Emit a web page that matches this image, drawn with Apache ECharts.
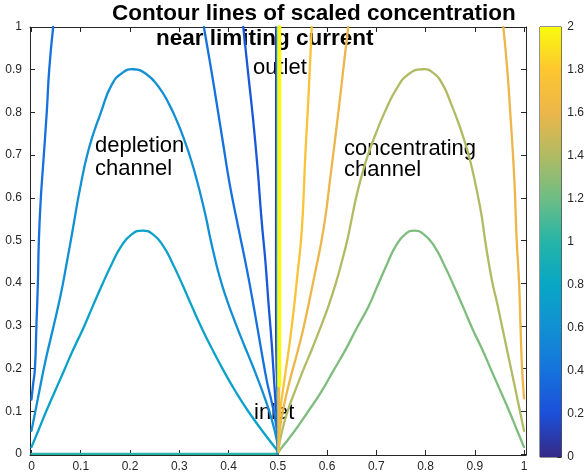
<!DOCTYPE html>
<html>
<head>
<meta charset="utf-8">
<script src="https://cdn.jsdelivr.net/npm/echarts@6/dist/echarts.min.js"></script>
<style>
  html, body { margin: 0; padding: 0; background: #fff; }
  #chart { width: 587px; height: 473px; }
</style>
</head>
<body>
<div id="chart"></div>
<script>
// tick values
var xTicks = [0, 0.1, 0.2, 0.3, 0.4, 0.5, 0.6, 0.7, 0.8, 0.9, 1];
var yTicks = [0, 0.1, 0.2, 0.3, 0.4, 0.5, 0.6, 0.7, 0.8, 0.9, 1];
var barTicks = [0, 0.2, 0.4, 0.6, 0.8, 1, 1.2, 1.4, 1.6, 1.8, 2];
// parula-like colours at 0, 0.2, ... 2
var parula = ['#352a87', '#1c4fd9', '#1572dc', '#1290d3', '#08a6c5', '#25b4a8',
              '#6dbd85', '#b0bb63', '#ecb64a', '#fdc630', '#f9fb0e'];

// contour lines, [x, y]
// depletion side
var navyLine = [[0.496, 1], [0.496, 0.6], [0.496, 0.3], [0.497, 0.2], [0.499, 0.15]];
var lineC = [[0.43, 1], [0.44, 0.89], [0.45, 0.783], [0.459, 0.67], [0.467, 0.55], [0.475, 0.45],
             [0.481, 0.356], [0.487, 0.27], [0.491, 0.2], [0.495, 0.13], [0.498, 0.084], [0.5, 0.057]];
var lineB = [[0.35, 1], [0.362, 0.92], [0.372, 0.85], [0.39, 0.72], [0.403, 0.628], [0.42, 0.53],
             [0.437, 0.434], [0.452, 0.34], [0.467, 0.24], [0.478, 0.17], [0.488, 0.12], [0.495, 0.08], [0.5, 0.037]];
var lineA = [[0, 0.127], [0.003, 0.16], [0.007, 0.2], [0.01, 0.3], [0.013, 0.4], [0.015, 0.5],
             [0.019, 0.6], [0.023, 0.667], [0.031, 0.8], [0.036, 0.9], [0.044, 1]];
var arch1 = [[0, 0.054], [0.013, 0.13], [0.028, 0.216], [0.043, 0.29], [0.059, 0.371], [0.072, 0.45],
             [0.084, 0.527], [0.097, 0.612], [0.116, 0.713], [0.141, 0.8], [0.163, 0.865], [0.185, 0.893],
             [0.207, 0.901], [0.233, 0.89], [0.258, 0.86], [0.279, 0.82], [0.297, 0.775], [0.312, 0.73],
             [0.325, 0.685], [0.336, 0.64], [0.346, 0.595], [0.355, 0.55], [0.363, 0.505], [0.372, 0.46],
             [0.382, 0.415], [0.394, 0.37], [0.408, 0.325], [0.423, 0.28], [0.44, 0.232], [0.458, 0.18],
             [0.474, 0.13], [0.488, 0.08], [0.5, 0.022]];
var arch2 = [[0, 0.016], [0.014, 0.055], [0.03, 0.1], [0.047, 0.145], [0.066, 0.195], [0.085, 0.245],
             [0.105, 0.294], [0.124, 0.345], [0.143, 0.395], [0.163, 0.445], [0.183, 0.488], [0.204, 0.515],
             [0.225, 0.523], [0.246, 0.515], [0.267, 0.488], [0.287, 0.445], [0.307, 0.395], [0.326, 0.345],
             [0.346, 0.294], [0.367, 0.245], [0.39, 0.195], [0.415, 0.145], [0.44, 0.1], [0.468, 0.055], [0.5, 0.007]];
var bottomLine = [[0, 0], [0.5, 0]];
var blueEdge = [[0.4985, 0], [0.4985, 1]];
// concentrating side
var lineCr = [[0.569, 1], [0.563, 0.85], [0.556, 0.7], [0.549, 0.527], [0.54, 0.42], [0.528, 0.294],
              [0.514, 0.177], [0.507, 0.12], [0.502, 0.07]];
var lineBr = [[0.643, 1], [0.633, 0.9], [0.623, 0.8], [0.607, 0.65], [0.593, 0.527], [0.575, 0.42],
              [0.552, 0.294], [0.538, 0.23], [0.524, 0.17], [0.512, 0.11], [0.503, 0.05]];
var lineAr = [[0.958, 1], [0.966, 0.9], [0.972, 0.8], [0.98, 0.65], [0.985, 0.503], [0.99, 0.4],
              [0.993, 0.294], [0.996, 0.2], [1, 0.13]];
var arch1r = [[0.501, 0.01], [0.508, 0.05], [0.52, 0.1], [0.536, 0.15], [0.553, 0.2], [0.571, 0.25],
              [0.588, 0.3], [0.604, 0.35], [0.618, 0.4], [0.63, 0.45], [0.641, 0.5], [0.65, 0.55],
              [0.659, 0.6], [0.67, 0.65], [0.683, 0.7], [0.699, 0.75], [0.717, 0.8], [0.741, 0.855],
              [0.766, 0.89], [0.794, 0.901], [0.815, 0.893], [0.835, 0.865], [0.852, 0.82], [0.867, 0.775],
              [0.88, 0.73], [0.891, 0.685], [0.9, 0.64], [0.908, 0.595], [0.915, 0.55], [0.921, 0.5],
              [0.928, 0.45], [0.936, 0.4], [0.946, 0.35], [0.957, 0.29], [0.968, 0.23], [0.979, 0.17],
              [0.99, 0.11], [1, 0.054]];
var arch2r = [[0.502, 0.006], [0.535, 0.055], [0.562, 0.1], [0.588, 0.145], [0.613, 0.195], [0.638, 0.245],
              [0.66, 0.294], [0.684, 0.345], [0.703, 0.395], [0.722, 0.445], [0.74, 0.488], [0.759, 0.515],
              [0.777, 0.523], [0.796, 0.515], [0.817, 0.488], [0.837, 0.445], [0.857, 0.395], [0.876, 0.345],
              [0.895, 0.294], [0.915, 0.245], [0.934, 0.195], [0.953, 0.145], [0.97, 0.1], [0.986, 0.055], [1, 0.016]];
var orangeEdge = [[0.502, 0.005], [0.502, 0.16]];
var yellowEdge = [[0.503, 0.16], [0.503, 1]];

var contourLines = [bottomLine, arch2, arch1, lineA, lineB, lineC, navyLine, blueEdge,
                    arch2r, arch1r, lineAr, lineBr, lineCr, orangeEdge, yellowEdge];
var contourLevels = [1.0, 0.75, 0.6, 0.4, 0.4, 0.25, 0.1, 0.55,
                     1.25, 1.4, 1.6, 1.6, 1.75, 1.65, 2.0];

function hex2rgb(h) {
  return [parseInt(h.substr(1, 2), 16), parseInt(h.substr(3, 2), 16), parseInt(h.substr(5, 2), 16)];
}
function levelColor(v) {
  var t = v / 2 * (parula.length - 1);
  var i = Math.min(Math.floor(t), parula.length - 2);
  var f = t - i;
  var a = hex2rgb(parula[i]), b = hex2rgb(parula[i + 1]);
  var c = a.map(function (k, j) { return Math.round(k + (b[j] - k) * f); });
  return 'rgb(' + c.join(',') + ')';
}

var FONT = '"Liberation Sans", Arial, Helvetica, sans-serif';
var AX = '#262626';

var chart = echarts.init(document.getElementById('chart'));

// one smooth polyline per contour, positioned through the axes
var series = contourLines.map(function (d, i) {
  var w = 2.3;
  if (d === yellowEdge) w = 4;
  if (d === orangeEdge) w = 3;
  if (d === navyLine || d === blueEdge) w = 1.6;
  var color = levelColor(contourLevels[i]);
  return {
    type: 'custom',
    coordinateSystem: 'cartesian2d',
    xAxisIndex: 0,
    yAxisIndex: 0,
    data: d,
    silent: true,
    z: 3 + i,
    renderItem: function (params, api) {
      if (params.dataIndex !== 0) return;
      var pts = d.map(function (p) { return api.coord(p); });
      return {
        type: 'polyline',
        shape: { points: pts, smooth: 0.5, smoothConstraint: false },
        style: { stroke: color, lineWidth: w, fill: null, lineJoin: 'round', lineCap: 'round' }
      };
    }
  };
});

series.push({
  type: 'bar',
  xAxisIndex: 2,
  yAxisIndex: 2,
  data: [2],
  barWidth: '100%',
  silent: true,
  itemStyle: {
    color: new echarts.graphic.LinearGradient(0, 1, 0, 0, parula.map(function (c, i) {
      return { offset: i / (parula.length - 1), color: c };
    }))
  }
});

function mainAxis(pos, ticks, showLabel, margin, extra) {
  return Object.assign({
    type: 'value',
    gridIndex: 0,
    position: pos,
    splitLine: { show: false },
    axisLine: { show: true, onZero: false, lineStyle: { color: AX, width: 1 } },
    axisTick: { show: true, inside: true, length: 5, customValues: ticks, lineStyle: { color: AX } },
    axisLabel: { show: showLabel, customValues: ticks, margin: margin, color: AX, fontSize: 12, fontFamily: FONT }
  }, extra);
}

var option = {
  animation: false,
  backgroundColor: '#fff',
  grid: [
    { left: 30, right: 61, top: 27, bottom: 16 },
    { left: 540, width: 24, top: 27, height: 430, show: true, borderColor: AX, borderWidth: 1 }
  ],
  xAxis: [
    mainAxis('bottom', xTicks, true, 6, { min: -0.003, max: 1.004 }),
    mainAxis('top', xTicks, false, 6, { min: -0.003, max: 1.004 }),
    { type: 'category', gridIndex: 1, data: ['c'], show: false }
  ],
  yAxis: [
    mainAxis('left', yTicks, true, 8, { min: -0.0025, max: 1 }),
    mainAxis('right', yTicks, false, 8, { min: -0.0025, max: 1 }),
    {
      type: 'value', gridIndex: 1, position: 'right', min: 0, max: 2, interval: 0.2,
      splitLine: { show: false },
      axisLine: { show: false },
      axisTick: { show: true, inside: true, length: 4, lineStyle: { color: AX } },
      axisLabel: { margin: 6, color: AX, fontSize: 12, fontFamily: FONT }
    }
  ],
  graphic: [
    { type: 'text', left: 112, top: 2, silent: true,
      style: { text: 'Contour lines of scaled concentration', font: 'bold 22.5px ' + FONT, fill: '#000' } },
    { type: 'text', left: 156, top: 27, silent: true,
      style: { text: 'near limiting current', font: 'bold 22.5px ' + FONT, fill: '#000' } },
    { type: 'text', left: 95, top: 134, silent: true,
      style: { text: 'depletion\nchannel', font: '22px ' + FONT, fill: '#000', lineHeight: 23 } },
    { type: 'text', left: 344, top: 138, silent: true,
      style: { text: 'concentrating\nchannel', font: '22px ' + FONT, fill: '#000', lineHeight: 21 } },
    { type: 'text', left: 253, top: 57, silent: true,
      style: { text: 'outlet', font: '22px ' + FONT, fill: '#000' } },
    { type: 'text', left: 254, top: 402, silent: true,
      style: { text: 'inlet', font: '22px ' + FONT, fill: '#000' } }
  ],
  series: series
};

chart.setOption(option);
</script>
</body>
</html>
